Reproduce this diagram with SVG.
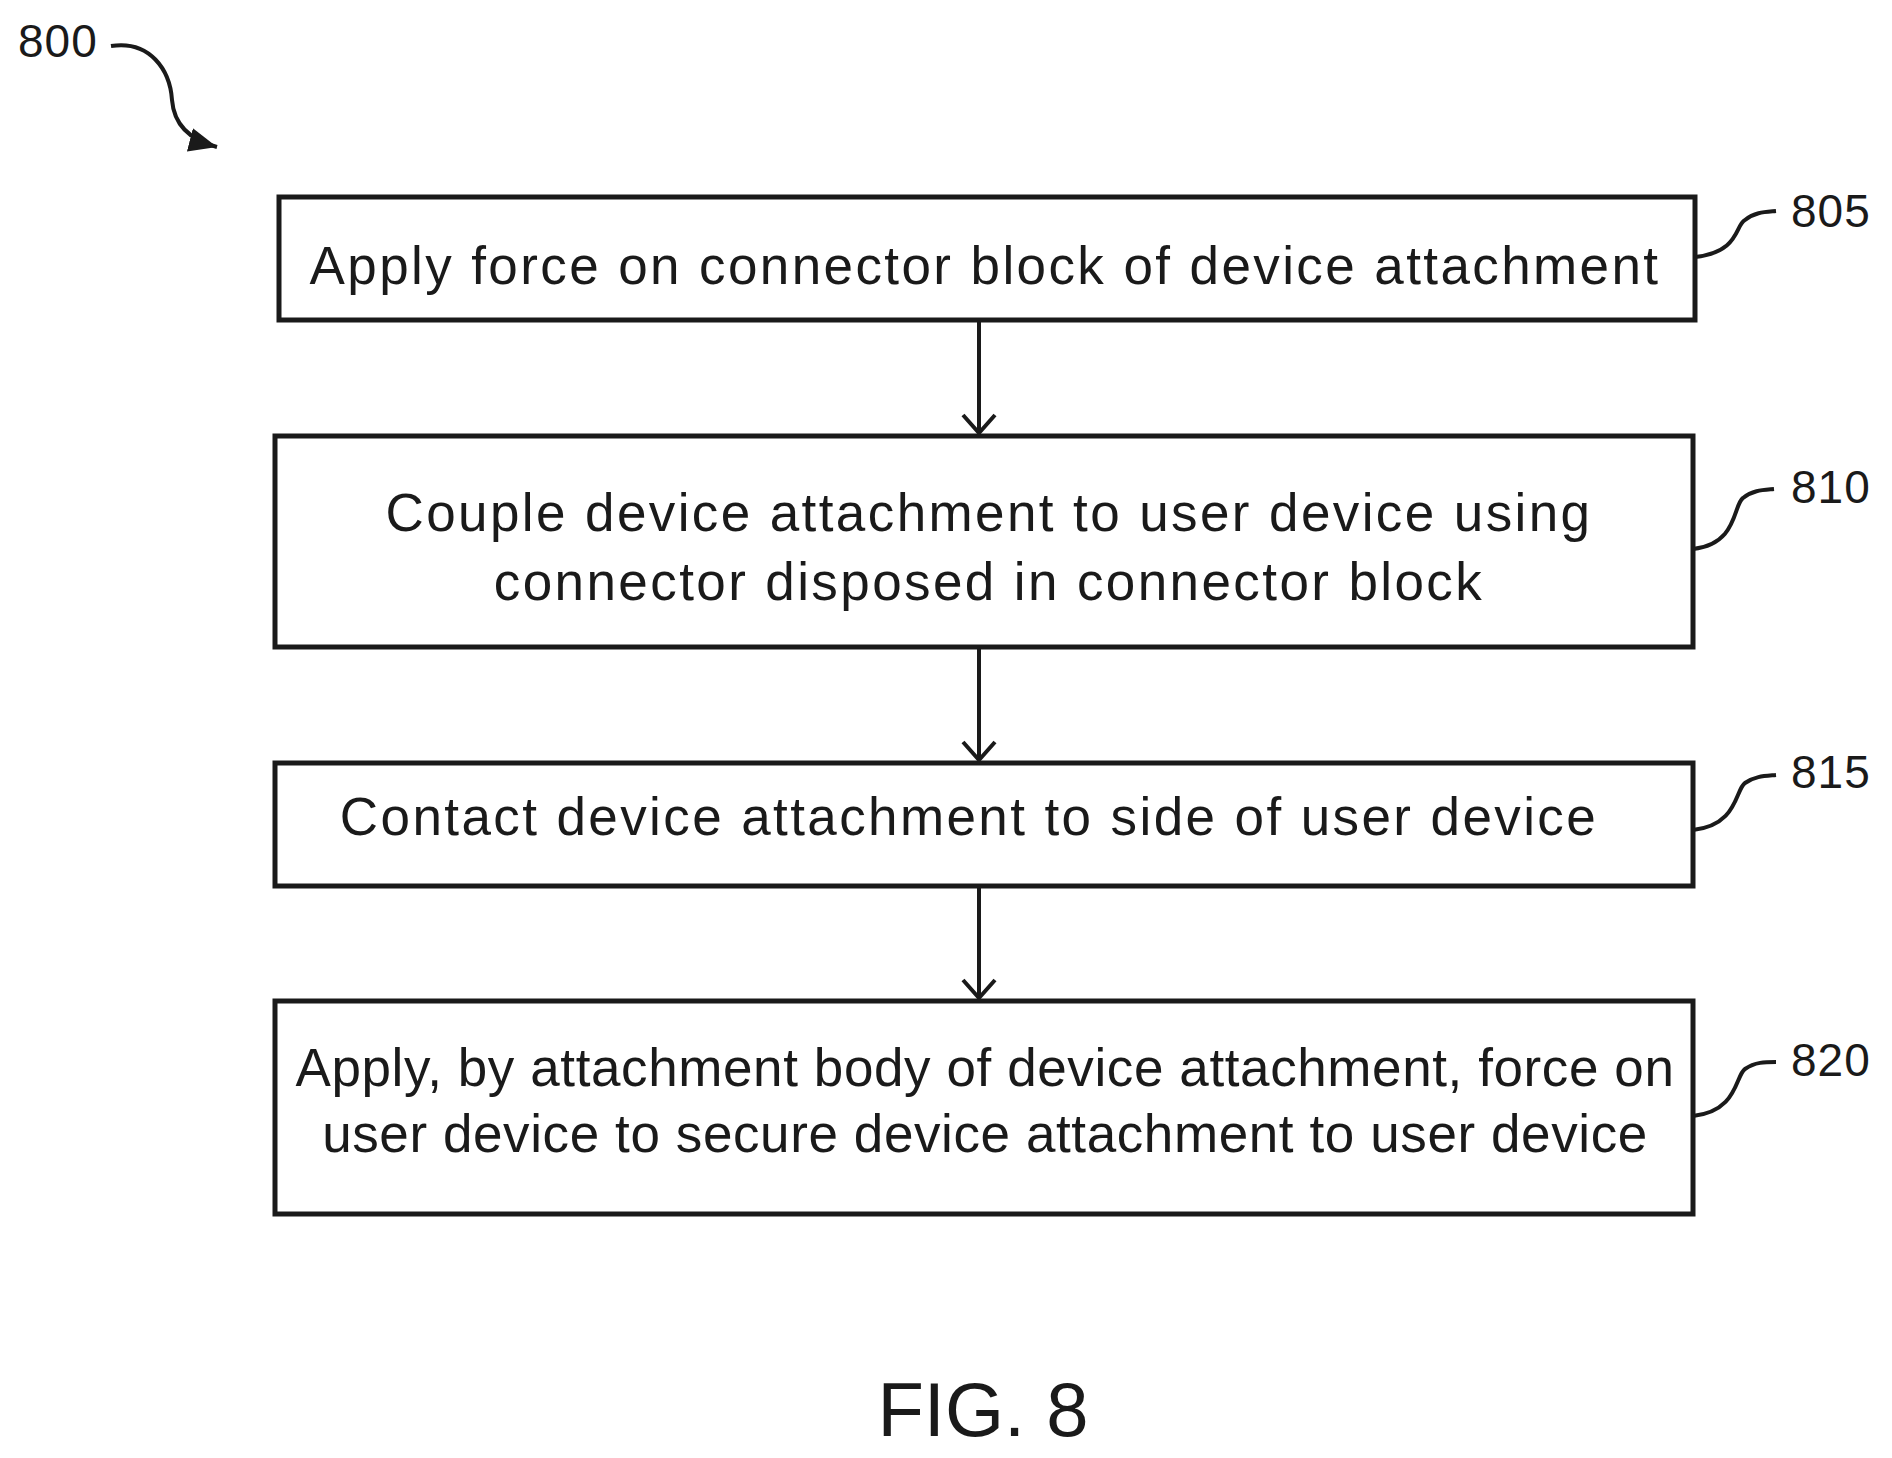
<svg xmlns="http://www.w3.org/2000/svg" width="1892" height="1458" viewBox="0 0 1892 1458">
<style>
.b{fill:#fff;stroke:#1a1a1a;stroke-width:5}
.t{font-family:"Liberation Sans",Arial,sans-serif;font-size:53px;letter-spacing:2.4px;fill:#1a1a1a;text-anchor:middle}
.n{letter-spacing:0.6px}
.l{font-family:"Liberation Sans",Arial,sans-serif;font-size:46px;letter-spacing:1px;fill:#1a1a1a}
.c{fill:none;stroke:#1a1a1a;stroke-width:4}
</style>
<defs>
<marker id="a" markerWidth="22" markerHeight="36" refX="20" refY="18" orient="auto" markerUnits="userSpaceOnUse"><path d="M2,2 L20,18 L2,34" fill="none" stroke="#1a1a1a" stroke-width="4"/></marker>
<marker id="f" markerWidth="30" markerHeight="24" refX="28" refY="12" orient="auto" markerUnits="userSpaceOnUse"><path d="M0,0 L28,12 L0,24 Z" fill="#1a1a1a"/></marker>
</defs>
<text class="l" x="18" y="57">800</text>
<g id="connectors">
<path class="c" d="M111,46 C150,40 170,70 172,100 C174,125 190,140 217,147" marker-end="url(#f)"/>
<line class="c" x1="979" y1="320" x2="979" y2="433" marker-end="url(#a)"/>
<line class="c" x1="979" y1="647" x2="979" y2="760" marker-end="url(#a)"/>
<line class="c" x1="979" y1="886" x2="979" y2="998" marker-end="url(#a)"/>
<path class="c" d="M1695,257 C1740,252 1735,225 1745,220 C1755,212 1765,212 1776,211"/>
<path class="c" d="M1693,549 C1738,544 1733,505 1743,498 C1753,490 1763,490 1774,489"/>
<path class="c" d="M1693,830 C1738,825 1735,790 1745,783 C1755,776 1765,776 1776,775"/>
<path class="c" d="M1693,1116 C1738,1111 1735,1076 1745,1069 C1755,1062 1765,1062 1776,1062"/>
</g>
<g id="n805"><rect class="b" x="279" y="197" width="1416" height="123"/><text class="t" x="985" y="284">Apply force on connector block of device attachment</text><text class="l" x="1791" y="227">805</text></g>
<g id="n810"><rect class="b" x="275" y="436" width="1418" height="211"/><text class="t" x="989" y="531">Couple device attachment to user device using</text><text class="t" x="989" y="600">connector disposed in connector block</text><text class="l" x="1791" y="503">810</text></g>
<g id="n815"><rect class="b" x="275" y="763" width="1418" height="123"/><text class="t" x="969" y="835">Contact device attachment to side of user device</text><text class="l" x="1791" y="788">815</text></g>
<g id="n820"><rect class="b" x="275" y="1001" width="1418" height="213"/><text class="t n" x="985" y="1086">Apply, by attachment body of device attachment, force on</text><text class="t n" x="985" y="1152">user device to secure device attachment to user device</text><text class="l" x="1791" y="1076">820</text></g>
<text x="983" y="1436" style="font-family:'Liberation Sans',Arial,sans-serif;font-size:76px;fill:#1a1a1a;text-anchor:middle">FIG. 8</text>
</svg>
